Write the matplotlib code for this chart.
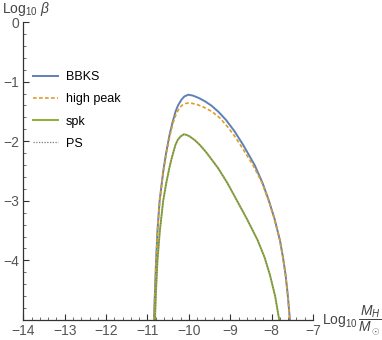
import matplotlib
matplotlib.use("Agg")
import matplotlib.pyplot as plt
from matplotlib.ticker import MultipleLocator

# curves (log10 M_H/M_sun , log10 beta)
bbks_x = [-10.843, -10.818, -10.791, -10.758, -10.706, -10.618, -10.550, -10.468,
          -10.400, -10.320, -10.262, -10.175, -10.110, -10.015, -9.900, -9.760,
          -9.611, -9.450, -9.280, -9.100, -8.900, -8.686, -8.410, -8.220,
          -8.070, -7.930, -7.800, -7.725, -7.662, -7.607, -7.558]
bbks_y = [-5.0, -4.5, -4.0, -3.5, -3.0, -2.5, -2.2, -1.9,
          -1.7, -1.5, -1.4, -1.3, -1.25, -1.22, -1.235, -1.275,
          -1.33, -1.405, -1.51, -1.645, -1.83, -2.064, -2.40, -2.70,
          -2.99, -3.30, -3.66, -3.95, -4.245, -4.6, -5.0]

hp_x = [-10.843, -10.818, -10.791, -10.757, -10.704, -10.614, -10.543, -10.455,
        -10.385, -10.310, -10.235, -10.170, -10.095, -10.014, -9.920, -9.800,
        -9.652, -9.450, -9.250, -9.050, -8.900, -8.766, -8.452, -8.230,
        -8.075, -7.935, -7.802, -7.727, -7.663, -7.608, -7.559]
hp_y = [-5.0, -4.5, -4.0, -3.5, -3.0, -2.5, -2.2, -1.9,
        -1.7, -1.55, -1.45, -1.40, -1.37, -1.359, -1.366, -1.385,
        -1.425, -1.50, -1.61, -1.77, -1.91, -2.05, -2.399, -2.70,
        -2.99, -3.30, -3.66, -3.95, -4.245, -4.6, -5.0]

spk_x = [-10.819, -10.793, -10.758, -10.700, -10.620, -10.545, -10.473, -10.415,
         -10.360, -10.325, -10.270, -10.200, -10.120, -10.050, -9.980, -9.860,
         -9.732, -9.600, -9.500, -9.290, -9.070, -8.845, -8.600, -8.340,
         -8.170, -8.040, -7.915, -7.816]
spk_y = [-5.0, -4.5, -4.0, -3.5, -3.0, -2.7, -2.455, -2.287,
         -2.15, -2.064, -1.98, -1.92, -1.884, -1.895, -1.92, -1.98,
         -2.064, -2.17, -2.26, -2.455, -2.70, -2.987, -3.30, -3.658,
         -3.95, -4.245, -4.6, -5.0]

ps_x = [-10.819, -10.793, -10.758, -10.700, -10.620, -10.545, -10.473, -10.415,
        -10.360, -10.325, -10.270, -10.200, -10.120, -10.050, -9.980, -9.860,
        -9.732, -9.600, -9.500, -9.290, -9.070, -8.845, -8.600, -8.340,
        -8.170, -8.040, -7.915, -7.816]
ps_y = [-5.0, -4.5, -4.0, -3.5, -3.0, -2.7, -2.455, -2.287,
        -2.15, -2.064, -1.98, -1.92, -1.884, -1.895, -1.92, -1.98,
        -2.064, -2.17, -2.26, -2.455, -2.70, -2.987, -3.30, -3.658,
        -3.95, -4.245, -4.6, -5.0]

x_ticks = [-14, -13, -12, -11, -10, -9, -8, -7]
y_ticks = [0, -1, -2, -3, -4]

plt.rcParams["font.family"] = ["Liberation Sans", "DejaVu Sans"]
plt.rcParams["mathtext.fontset"] = "custom"
plt.rcParams["mathtext.rm"] = "Liberation Sans"
plt.rcParams["mathtext.it"] = "Liberation Sans:italic"
plt.rcParams["axes.unicode_minus"] = True

fig = plt.figure(figsize=(3.82, 3.40), dpi=100)
W, H = 382.0, 340.0
ax = fig.add_axes([23.3 / W, 20.0 / H, (313.0 - 23.3) / W, (320.0 - 22.0) / H])

ax.plot(bbks_x, bbks_y, color="#5E81B5", lw=1.4, label="BBKS", solid_joinstyle="round")
ax.plot(hp_x, hp_y, color="#E19C24", lw=1.2, linestyle=(0, (2.2, 1.4)), label="high peak")
ax.plot(spk_x, spk_y, color="#8FB032", lw=1.4, label="spk", solid_joinstyle="round")
ax.plot(ps_x, ps_y, color="#7a7a7a", lw=0.9, linestyle=(0, (1, 1.2)), label="PS")

ax.set_xlim(-14, -7)
ax.set_ylim(-5, 0)

# Mathematica-like axes: only left/bottom, ticks inside
for s in ["top", "right"]:
    ax.spines[s].set_visible(False)
for s in ["left", "bottom"]:
    ax.spines[s].set_color("#333333")
    ax.spines[s].set_linewidth(0.9)
ax.set_xticks(x_ticks)
ax.set_yticks(y_ticks)
ax.xaxis.set_minor_locator(MultipleLocator(0.2))
ax.yaxis.set_minor_locator(MultipleLocator(0.2))
ax.tick_params(which="major", direction="in", length=4, width=0.8, color="#333333",
               labelsize=10, labelcolor="#555555", pad=3)
ax.tick_params(which="minor", direction="in", length=2, width=0.6, color="#555555")

# axis labels
ax.text(1.03, 0.0, r"Log$_{10}\,\dfrac{M_H}{M_\odot}$", transform=ax.transAxes,
        ha="left", va="center", fontsize=10, color="#444444")
fig.text(2.0 / W, 1 - 9.0 / H, r"Log$_{10}$ $\beta$", ha="left", va="center",
         fontsize=10, color="#444444")

ax.legend(loc="upper left", bbox_to_anchor=(33.3 / W, 1 - 71.0 / H),
          bbox_transform=fig.transFigure, frameon=False, fontsize=9,
          handlelength=2.0, handletextpad=0.6, labelspacing=0.82,
          borderpad=0, borderaxespad=0)

fig.savefig("out.png", dpi=100)
